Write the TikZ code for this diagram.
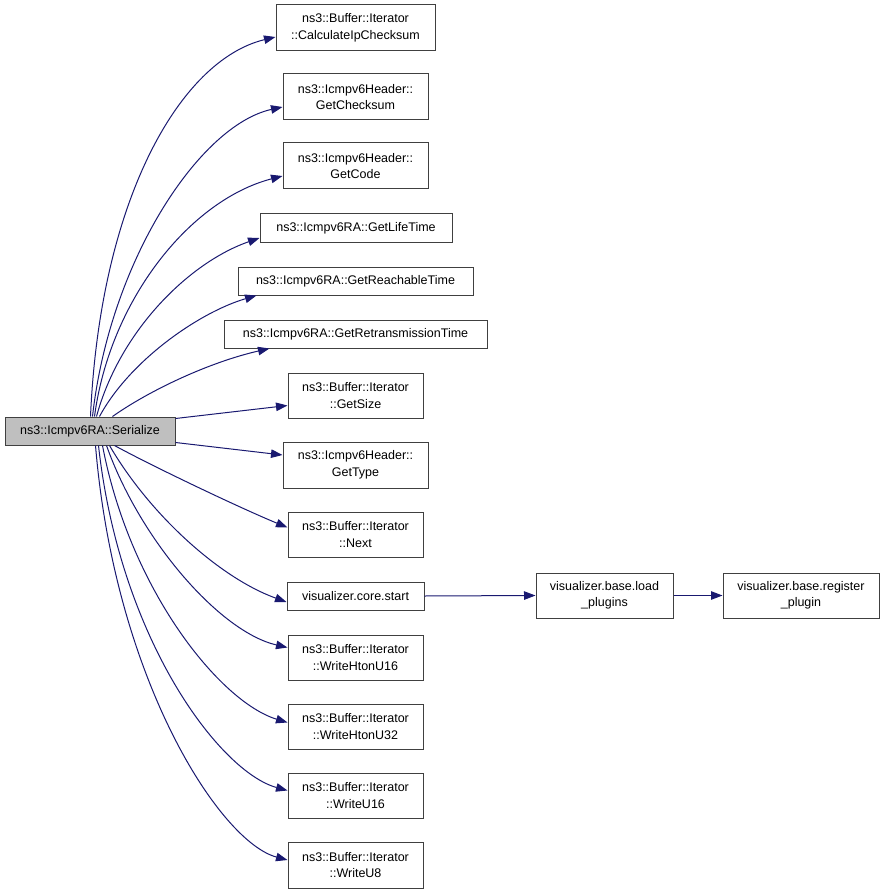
\documentclass[tikz,border=0pt]{standalone}
\usepackage{fontspec}
\setmainfont{Liberation Sans}
\usetikzlibrary{arrows.meta}
\definecolor{edgec}{HTML}{191970}
\definecolor{boxc}{HTML}{404040}
\definecolor{curfill}{HTML}{BFBFBF}
\tikzset{
  fn/.style={draw=boxc, line width=1pt, fill=white, inner sep=0pt, align=center,
    font=\fontsize{12.5}{16.5}\selectfont},
  cur/.style={fn, fill=curfill},
  edge/.style={draw=edgec, line width=1pt, -{Triangle[length=11.5pt,width=8.5pt]}},
}
\begin{document}
\begin{tikzpicture}[x=1pt,y=-1pt]
\useasboundingbox (0,0) rectangle (885,893);
\node[cur, minimum width=170pt, minimum height=28pt] (ser) at (90,431) {ns3::Icmpv6RA::Serialize};
\node[fn, minimum width=159pt, minimum height=46pt] (calc) at (355.5,28) {ns3::Buffer::Iterator\\::CalculateIpChecksum};
\node[fn, minimum width=145pt, minimum height=46pt] (chk) at (355.5,97) {ns3::Icmpv6Header::\\GetChecksum};
\node[fn, minimum width=145pt, minimum height=46pt] (code) at (355.5,166) {ns3::Icmpv6Header::\\GetCode};
\node[fn, minimum width=192pt, minimum height=28pt] (life) at (356,228) {ns3::Icmpv6RA::GetLifeTime};
\node[fn, minimum width=235pt, minimum height=28pt] (reach) at (355.5,281) {ns3::Icmpv6RA::GetReachableTime};
\node[fn, minimum width=263pt, minimum height=28pt] (retr) at (355.5,334) {ns3::Icmpv6RA::GetRetransmissionTime};
\node[fn, minimum width=135pt, minimum height=45pt] (size) at (355.5,395.5) {ns3::Buffer::Iterator\\::GetSize};
\node[fn, minimum width=145pt, minimum height=46pt] (type) at (355.5,465) {ns3::Icmpv6Header::\\GetType};
\node[fn, minimum width=135pt, minimum height=45pt] (next) at (355.5,534.5) {ns3::Buffer::Iterator\\::Next};
\node[fn, minimum width=137pt, minimum height=28pt] (start) at (355.5,596) {visualizer.core.start};
\node[fn, minimum width=135pt, minimum height=45pt] (whu16) at (355.5,657.5) {ns3::Buffer::Iterator\\::WriteHtonU16};
\node[fn, minimum width=135pt, minimum height=45pt] (whu32) at (355.5,726.5) {ns3::Buffer::Iterator\\::WriteHtonU32};
\node[fn, minimum width=135pt, minimum height=45pt] (wu16) at (355.5,795.5) {ns3::Buffer::Iterator\\::WriteU16};
\node[fn, minimum width=135pt, minimum height=46pt] (wu8) at (355.5,865) {ns3::Buffer::Iterator\\::WriteU8};
\node[fn, minimum width=137pt, minimum height=45pt] (load) at (604.5,595.5) {visualizer.base.load\\\_plugins};
\node[fn, minimum width=156pt, minimum height=45pt] (reg) at (801,595.5) {visualizer.base.register\\\_plugin};

% upward edges
\draw[edge] ([xshift=86pt]ser.north west) .. controls (100,200) and (180,60) .. ([yshift=-9pt]calc.west);
\draw[edge] ([xshift=88pt]ser.north west) .. controls (110,260) and (200,125) .. ([yshift=-10pt]chk.west);
\draw[edge] ([xshift=90pt]ser.north west) .. controls (110,300) and (190,200) .. ([yshift=-10pt]code.west);
\draw[edge] ([xshift=92pt]ser.north west) .. controls (120,330) and (190,262) .. ([yshift=-10pt]life.west);
\draw[edge] ([xshift=95pt]ser.north west) .. controls (130,360) and (200,312) .. ([xshift=19pt]reach.south west);
\draw[edge] ([xshift=108pt]ser.north west) .. controls (150,390) and (210,362) .. ([xshift=46pt]retr.south west);
% straight edges
\draw[edge] ([yshift=-2pt]ser.north east) -- ([yshift=-10pt]size.west);
\draw[edge] ([yshift=3pt]ser.south east) -- ([yshift=10pt]type.west);
% downward edges
\draw[edge] ([xshift=110pt]ser.south west) .. controls (150,465) and (240,508) .. ([yshift=7pt]next.west);
\draw[edge] ([xshift=105pt]ser.south west) .. controls (150,515) and (220,578) .. ([yshift=-6pt]start.west);
\draw[edge] ([xshift=102pt]ser.south west) .. controls (140,540) and (220,632) .. ([yshift=10pt]whu16.west);
\draw[edge] ([xshift=98pt]ser.south west) .. controls (130,590) and (220,702) .. ([yshift=4pt]whu32.west);
\draw[edge] ([xshift=94pt]ser.south west) .. controls (120,640) and (220,772) .. ([yshift=5pt]wu16.west);
\draw[edge] ([xshift=91pt]ser.south west) .. controls (115,680) and (220,842) .. ([yshift=5pt]wu8.west);
% chain
\draw[edge] (start.east) -- (load.west);
\draw[edge] (load.east) -- (reg.west);
\end{tikzpicture}
\end{document}
